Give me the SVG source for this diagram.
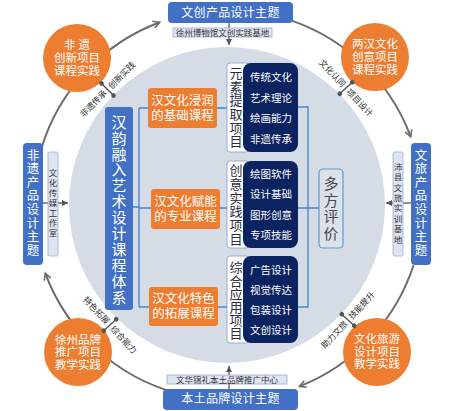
<svg xmlns="http://www.w3.org/2000/svg" width="452" height="411" viewBox="0 0 452 411">
<style>
text{font-family:"Liberation Sans","Noto Sans CJK SC",sans-serif;dominant-baseline:central;text-anchor:middle}
.v{font-family:"Noto Sans CJK SC","Noto Sans",sans-serif;writing-mode:vertical-rl;text-orientation:upright}
.ring{fill:none;stroke:#6b6b6b;stroke-width:2}
.tree{fill:none;stroke:#3f86cf;stroke-width:1.3}
.blue{fill:#4170c4}
.org{fill:#ed7d31}
.navy{fill:#0c2361}
.lbl{fill:#dfe4f0;stroke:#9aabd6;stroke-width:0.8}
.wt{fill:#fff}
.dk{fill:#333}
.cl{font-size:8.5px;fill:#333}
.bar{stroke:#555;stroke-width:1.4}
.dot{fill:#555}
</style>
<defs>
<marker id="ah" markerWidth="10" markerHeight="10" refX="8" refY="5" orient="auto" markerUnits="userSpaceOnUse">
<path d="M1.5,1.5 L8,5 L1.5,8.5" fill="none" stroke="#6b6b6b" stroke-width="1.6"/>
</marker>
<marker id="sa" markerWidth="8" markerHeight="8" refX="6" refY="3.5" orient="auto" markerUnits="userSpaceOnUse">
<path d="M0,0.5 L6,3.5 L0,6.5 z" fill="#555"/>
</marker>
</defs>

<circle cx="227" cy="205" r="158" fill="#d6dce6"/>

<g id="connectors">
<path class="ring" d="M41.5,148 A195,195 0 0 1 159.7,22.3" marker-end="url(#ah)"/>
<path class="ring" d="M278.5,16.6 A195,195 0 0 1 410.7,136.7" marker-end="url(#ah)"/>
<path class="ring" d="M413.5,265.3 A195,195 0 0 1 299.5,386.4" marker-end="url(#ah)"/>
<path class="ring" d="M177.5,393.4 A195,195 0 0 1 45.3,273.3" marker-end="url(#ah)"/>
<line x1="229" y1="22" x2="229" y2="45" stroke="#555" stroke-width="1.3" marker-end="url(#sa)"/>
<line x1="229" y1="390" x2="229" y2="366" stroke="#555" stroke-width="1.3" marker-end="url(#sa)"/>
<line x1="43" y1="203" x2="68" y2="203" stroke="#555" stroke-width="1.3" marker-end="url(#sa)"/>
<line x1="411" y1="203" x2="386" y2="203" stroke="#555" stroke-width="1.3" marker-end="url(#sa)"/>
<path class="tree" d="M133,207 H139 M139,108 V307 M139,108 H148 M139,208 H151 M139,307 H149"/>
<path class="tree" d="M217,108 H228 M220,208 H228 M218,307 H228"/>
<path class="tree" d="M298,107 H308 V307 H298 M298,208 H319"/>
</g>

<g id="top-theme">
<rect x="168" y="2" width="125" height="21" rx="4" class="blue"/>
<text x="230.5" y="12.5" font-size="12" class="wt" letter-spacing="0.3">文创产品设计主题</text>
<rect x="173" y="28" width="99" height="9" class="lbl"/>
<text x="222.5" y="32.5" font-size="8.5" class="dk">徐州博物馆文创实践基地</text>
</g>
<g id="bottom-theme">
<rect x="163" y="389" width="135" height="21" rx="4" class="blue"/>
<text x="230.5" y="399" font-size="12" class="wt" letter-spacing="0.3">本土品牌设计主题</text>
<rect x="167" y="375" width="120" height="9" class="lbl"/>
<text x="227" y="379.5" font-size="8.5" class="dk">文华锦礼本土品牌推广中心</text>
</g>
<g id="left-theme">
<rect x="23" y="143" width="20" height="122" rx="4" class="blue"/>
<text class="v wt" x="33" y="203" font-size="12.5" letter-spacing="1.1">非遗产品设计主题</text>
<rect x="48" y="152" width="10" height="104" rx="1.5" class="lbl"/>
<text class="v dk" x="53" y="203.5" font-size="8.5" letter-spacing="1.5">文化传媒工作室</text>
</g>
<g id="right-theme">
<rect x="411" y="143" width="20" height="122" rx="4" class="blue"/>
<text class="v wt" x="421" y="203" font-size="12.5" letter-spacing="1.1">文旅产品设计主题</text>
<rect x="393" y="152" width="10" height="104" rx="1.5" class="lbl"/>
<text class="v dk" x="398" y="204" font-size="8.5" letter-spacing="1.9">沛县文旅实训基地</text>
</g>

<g id="circle-tl">
<circle cx="77" cy="58" r="34" class="org"/>
<text font-size="11.5" class="wt"><tspan x="77" y="45">非 遗</tspan><tspan x="77" y="58">创新项目</tspan><tspan x="77" y="71">课程实践</tspan></text>
</g>
<g id="circle-tr">
<circle cx="375" cy="57" r="34" class="org"/>
<text font-size="11.5" class="wt"><tspan x="375" y="44">两汉文化</tspan><tspan x="375" y="57">创意项目</tspan><tspan x="375" y="70">课程实践</tspan></text>
</g>
<g id="circle-bl">
<circle cx="78" cy="352" r="34" class="org"/>
<text font-size="11.5" class="wt"><tspan x="78" y="339.5">徐州品牌</tspan><tspan x="78" y="352">推广项目</tspan><tspan x="78" y="364.5">教学实践</tspan></text>
</g>
<g id="circle-br">
<circle cx="377" cy="352" r="34" class="org"/>
<text font-size="11.5" class="wt"><tspan x="377" y="339">文化旅游</tspan><tspan x="377" y="351.5">设计项目</tspan><tspan x="377" y="364">教学实践</tspan></text>
</g>

<g id="label-tl" transform="translate(107.5,89.5) rotate(-45)">
<line x1="0" y1="-8.5" x2="0" y2="8.5" class="bar"/><circle cx="0" cy="-8.5" r="2.3" class="dot"/><circle cx="0" cy="8.5" r="2.3" class="dot"/>
<text x="-3" y="0" class="cl" style="text-anchor:end">非遗传承</text>
<text x="3" y="0" class="cl" style="text-anchor:start">创新实践</text>
</g>
<g id="label-tr" transform="translate(346,88) rotate(47)">
<line x1="0" y1="-8.5" x2="0" y2="8.5" class="bar"/><circle cx="0" cy="-8.5" r="2.3" class="dot"/><circle cx="0" cy="8.5" r="2.3" class="dot"/>
<text x="-3" y="0" class="cl" style="text-anchor:end">文化认同</text>
<text x="3" y="0" class="cl" style="text-anchor:start">项目设计</text>
</g>
<g id="label-bl" transform="translate(110,325) rotate(47)">
<line x1="0" y1="-8.5" x2="0" y2="8.5" class="bar"/><circle cx="0" cy="-8.5" r="2.3" class="dot"/><circle cx="0" cy="8.5" r="2.3" class="dot"/>
<text x="-3" y="0" class="cl" style="text-anchor:end">特色拓展</text>
<text x="3" y="0" class="cl" style="text-anchor:start">综合能力</text>
</g>
<g id="label-br" transform="translate(348,320) rotate(-47)">
<line x1="0" y1="-8.5" x2="0" y2="8.5" class="bar"/><circle cx="0" cy="-8.5" r="2.3" class="dot"/><circle cx="0" cy="8.5" r="2.3" class="dot"/>
<text x="-3" y="0" class="cl" style="text-anchor:end">助力文旅</text>
<text x="3" y="0" class="cl" style="text-anchor:start">技能提升</text>
</g>

<g id="main">
<rect x="105" y="107" width="28" height="203" rx="3" class="blue"/>
<text class="v wt" x="119" y="210" font-size="15" letter-spacing="0.9">汉韵融入艺术设计课程体系</text>
</g>

<g id="course-1">
<rect x="148" y="88" width="69" height="40" rx="3" class="org"/>
<text font-size="12.5" class="wt"><tspan x="182.5" y="100.5">汉文化浸润</tspan><tspan x="182.5" y="115.5">的基础课程</tspan></text>
</g>
<g id="course-2">
<rect x="151" y="189" width="69" height="40" rx="3" class="org"/>
<text font-size="12.5" class="wt"><tspan x="185.5" y="201.5">汉文化赋能</tspan><tspan x="185.5" y="216.5">的专业课程</tspan></text>
</g>
<g id="course-3">
<rect x="149" y="287" width="69" height="39" rx="3" class="org"/>
<text font-size="12.5" class="wt"><tspan x="183.5" y="298.5">汉文化特色</tspan><tspan x="183.5" y="313.5">的拓展课程</tspan></text>
</g>

<g id="project-1">
<rect x="227" y="63" width="22" height="89" rx="3" fill="#fff" stroke="#8c9cc0" stroke-width="0.8"/>
<rect x="243" y="63" width="55" height="89" rx="8" class="navy"/>
<text class="v" x="236" y="107.5" font-size="13" fill="#2c2c44" letter-spacing="0.6">元素提取项目</text>
<text font-size="10.5" class="wt"><tspan x="271" y="77">传统文化</tspan><tspan x="271" y="97.5">艺术理论</tspan><tspan x="271" y="118">绘画能力</tspan><tspan x="271" y="138.5">非遗传承</tspan></text>
</g>
<g id="project-2">
<rect x="227" y="161" width="22" height="87" rx="3" fill="#fff" stroke="#8c9cc0" stroke-width="0.8"/>
<rect x="243" y="161" width="55" height="87" rx="8" class="navy"/>
<text class="v" x="236" y="205" font-size="13" fill="#2c2c44" letter-spacing="0.8">创意实践项目</text>
<text font-size="10.5" class="wt"><tspan x="271" y="174">绘图软件</tspan><tspan x="271" y="194">设计基础</tspan><tspan x="271" y="214.5">图形创意</tspan><tspan x="271" y="235">专项技能</tspan></text>
</g>
<g id="project-3">
<rect x="227" y="256" width="22" height="87" rx="3" fill="#fff" stroke="#8c9cc0" stroke-width="0.8"/>
<rect x="243" y="256" width="55" height="87" rx="8" class="navy"/>
<text class="v" x="236" y="300.5" font-size="13" fill="#2c2c44" letter-spacing="0.2">综合应用项目</text>
<text font-size="10.5" class="wt"><tspan x="271" y="270">广告设计</tspan><tspan x="271" y="289.5">视觉传达</tspan><tspan x="271" y="309.5">包装设计</tspan><tspan x="271" y="330">文创设计</tspan></text>
</g>

<g id="evaluation">
<rect x="319" y="169" width="24" height="79" rx="4" fill="#dbe1ea" stroke="#5b9bd5" stroke-width="1.2"/>
<text class="v" x="331" y="209" font-size="15" fill="#4a4a4a" letter-spacing="1.5">多方评价</text>
</g>
</svg>
